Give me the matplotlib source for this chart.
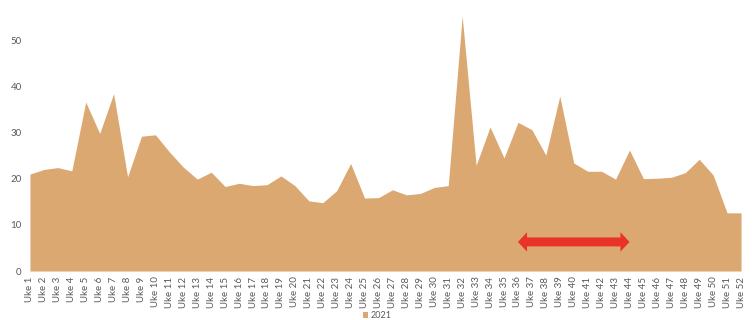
import numpy as np
import matplotlib.pyplot as plt
from matplotlib.patches import FancyArrow

plt.rcParams['font.family'] = ['Lato', 'DejaVu Sans']

# weekly values 2021
weeks = ["Uke " + str(i) for i in range(1, 53)]
values_2021 = [21.0, 22.0, 22.4, 21.7, 36.6, 29.8, 38.4, 20.4, 29.2, 29.5,
               25.8, 22.5, 19.9, 21.4, 18.3, 19.0, 18.5, 18.7, 20.6, 18.5,
               15.2, 14.8, 17.4, 23.3, 15.8, 15.9, 17.6, 16.5, 16.8, 18.1,
               18.5, 55.2, 22.9, 31.2, 24.5, 32.2, 30.6, 25.1, 37.9, 23.4,
               21.6, 21.6, 19.9, 26.2, 20.0, 20.1, 20.3, 21.3, 24.2, 20.8,
               12.6, 12.6]
y_ticks = [0, 10, 20, 30, 40, 50]

# red double arrow marking weeks 36-44
arrow_from = 36
arrow_to = 44
arrow_level = 6.3
head_len = 0.65

area_color = '#DBA872'
arrow_color = '#E8322A'
text_color = '#595959'

x = np.arange(1, len(weeks) + 1)

fig = plt.figure(figsize=(7.55, 3.2), dpi=100)
ax = fig.add_axes([0.0397, 0.153, 0.9418, 0.801])

ax.fill_between(x, 0, values_2021, color=area_color, linewidth=0, label='2021')

# two overlapping one-headed arrows make the double arrow
for start, end in ((arrow_to - head_len, arrow_from), (arrow_from + head_len, arrow_to)):
    ax.add_patch(FancyArrow(start, arrow_level, end - start, 0, width=1.85,
                            head_width=4.2, head_length=head_len,
                            length_includes_head=True, color=arrow_color,
                            linewidth=0))

ax.set_xlim(1, 52)
ax.set_ylim(0, 55.5)
ax.set_xticks(x)
ax.set_xticklabels(weeks, rotation=90, fontsize=7, color=text_color)
ax.set_yticks(y_ticks)
ax.set_yticklabels([str(t) for t in y_ticks], fontsize=7, color=text_color)
ax.tick_params(length=0)
ax.tick_params(axis='y', pad=6)
ax.tick_params(axis='x', pad=4)
for s in ax.spines.values():
    s.set_visible(False)

fig.legend(loc='lower center', bbox_to_anchor=(0.5, -0.025), frameon=False,
           fontsize=6.5, handlelength=0.6, handleheight=0.6, handletextpad=0.3,
           labelcolor=text_color)

fig.savefig('out.png', dpi=100)
